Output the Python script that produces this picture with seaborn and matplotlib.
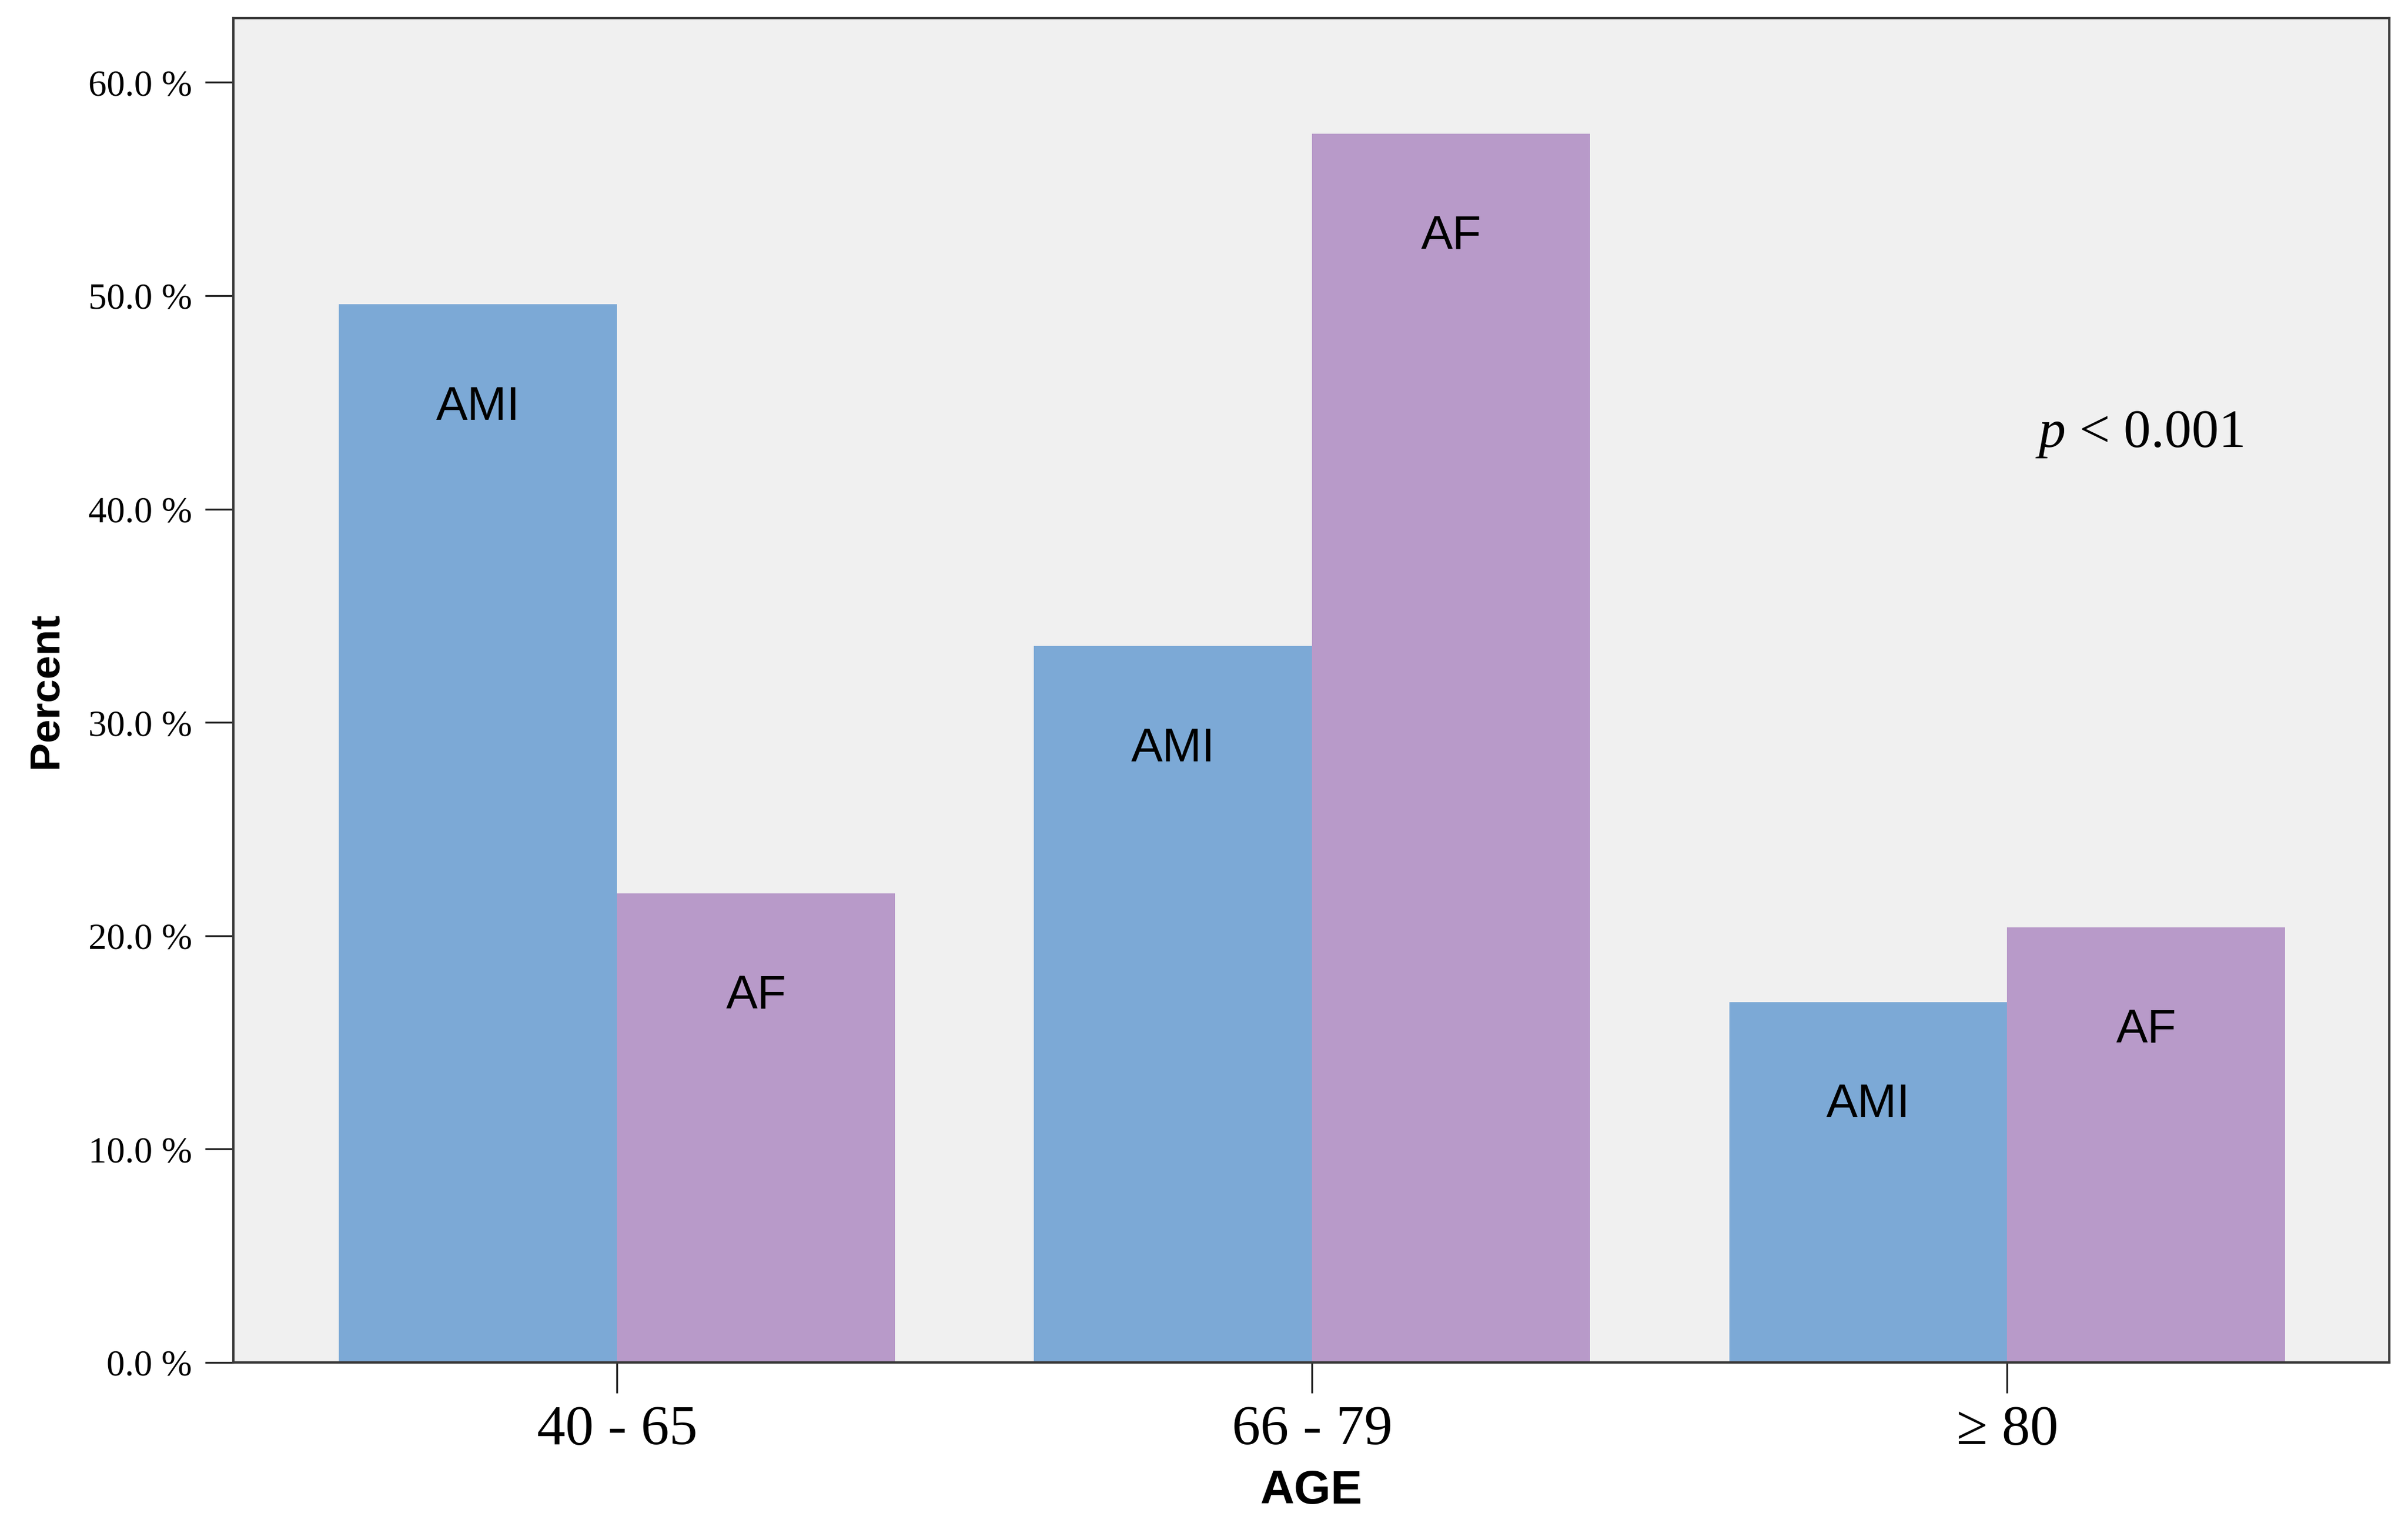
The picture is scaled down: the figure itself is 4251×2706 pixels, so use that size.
"""Grouped bar chart: AMI vs AF share by age group."""
import matplotlib
matplotlib.use("Agg")
import matplotlib.pyplot as plt
import pandas as pd
import seaborn as sns

# data
age_groups = ["40 - 65", "66 - 79", "\u2265 80"]
ami_pct = [49.6, 33.6, 16.9]
af_pct = [22.0, 57.6, 20.4]
groups = ["AMI", "AF"]
colors = {"AMI": "#7CA9D6", "AF": "#B89AC9"}
y_ticks = [0, 10, 20, 30, 40, 50, 60]

df = pd.DataFrame({
    "age": age_groups * 2,
    "group": ["AMI"] * len(age_groups) + ["AF"] * len(age_groups),
    "pct": ami_pct + af_pct,
})

sns.set_style("white")
plt.rcParams["mathtext.fontset"] = "custom"
plt.rcParams["mathtext.it"] = "Liberation Serif:italic"
plt.rcParams["mathtext.rm"] = "Liberation Serif"
plt.rcParams["text.color"] = "black"
plt.rcParams["axes.labelcolor"] = "black"
plt.rcParams["xtick.color"] = "black"
plt.rcParams["ytick.color"] = "black"

fig = plt.figure(figsize=(4251 / 300, 2706 / 300), dpi=300)
ax = fig.add_axes([0.0969, 0.1112, 0.8954, 0.8768])
ax.set_facecolor("#F0F0F0")

sns.barplot(data=df, x="age", y="pct", hue="group", hue_order=groups,
            order=age_groups, palette=colors, saturation=1, width=0.8,
            edgecolor="none", linewidth=0, legend=False, ax=ax)

for cont, name in zip(ax.containers, groups):
    ax.bar_label(cont, labels=[name] * len(cont), label_type="edge",
                 padding=-53, fontsize=20, family="Liberation Sans",
                 color="black")

ax.set_xlim(-0.552, 2.55)
ax.set_ylim(0, 63)
ax.set_yticks(y_ticks)
ax.set_yticklabels([f"{v:.1f} %" for v in y_ticks],
                   family="Liberation Serif", fontsize=15.5)
ax.set_xticks(range(len(age_groups)))
ax.set_xticklabels(age_groups, family="Liberation Serif", fontsize=24)

ax.tick_params(axis="y", direction="out", length=12, width=0.8,
               pad=5.5, color="#222222", left=True)
ax.tick_params(axis="x", direction="out", length=13, width=0.8,
               pad=5, color="#222222", bottom=True)

for side in ["left", "right", "top", "bottom"]:
    ax.spines[side].set_visible(True)
    ax.spines[side].set_color("#3a3a3a")
    ax.spines[side].set_linewidth(1.0)

ax.set_ylabel("Percent", family="Liberation Sans", fontsize=18,
              fontweight="bold")
ax.set_xlabel("AGE", family="Liberation Sans", fontsize=20,
              fontweight="bold")
ax.yaxis.set_label_coords(-0.078, 0.5)
ax.xaxis.set_label_coords(0.5, -0.079)

ax.text(2.19, 43.5, r"$p$ < 0.001", family="Liberation Serif",
        fontsize=23, ha="center", va="center")

fig.savefig("out.png", dpi=300)
plt.close(fig)
